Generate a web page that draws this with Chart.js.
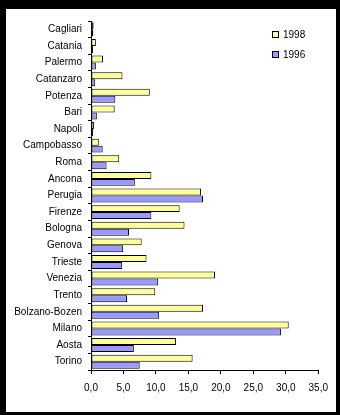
<!DOCTYPE html>
<html>
<head>
<meta charset="utf-8">
<script src="https://cdn.jsdelivr.net/npm/chart.js@4/dist/chart.umd.min.js"></script>
<style>
  html, body { margin: 0; padding: 0; background: #000; width: 340px; height: 415px; overflow: hidden; }
  #frame { position: absolute; left: 6px; top: 9px; width: 330px; height: 403px; background: #fff; }
  canvas { display: block; }
</style>
</head>
<body>
<div id="frame"><canvas id="c" width="330" height="403"></canvas></div>
<script>
// Cities, top to bottom
const cities = ['Cagliari', 'Catania', 'Palermo', 'Catanzaro', 'Potenza', 'Bari', 'Napoli',
  'Campobasso', 'Roma', 'Ancona', 'Perugia', 'Firenze', 'Bologna', 'Genova', 'Trieste',
  'Venezia', 'Trento', 'Bolzano-Bozen', 'Milano', 'Aosta', 'Torino'];

const values1998 = [0.4, 0.75, 1.85, 4.85, 9.05, 3.65, 0.45, 1.2, 4.35, 9.3, 16.95, 13.65,
  14.4, 7.8, 8.55, 19.1, 9.9, 17.25, 30.45, 13.1, 15.65];
const values1996 = [0.35, 0.3, 0.75, 0.65, 3.75, 0.9, 0.3, 1.8, 2.4, 6.75, 17.25, 9.3,
  5.85, 4.95, 4.8, 10.35, 5.55, 10.5, 29.25, 6.6, 7.5];

const seriesNames = ['1998', '1996'];
const xMin = 0, xMax = 35, xStep = 5;

const FONT = { family: '"Liberation Sans", Arial, sans-serif', size: 10 };

// Legend drawn in the upper right of the plot
const boxLegend = {
  id: 'boxLegend',
  afterDraw(chart) {
    const ctx = chart.ctx;
    ctx.save();
    ctx.font = FONT.size + 'px ' + FONT.family;
    ctx.textBaseline = 'middle';
    chart.data.datasets.forEach((ds, i) => {
      const x = 266, y = 22 + i * 20;
      ctx.fillStyle = ds.backgroundColor;
      ctx.fillRect(x, y, 7, 7);
      ctx.strokeStyle = '#000';
      ctx.lineWidth = 1;
      ctx.strokeRect(x + 0.5, y + 0.5, 6, 6);
      ctx.fillStyle = '#000';
      ctx.fillText(ds.label, x + 11, y + 4);
    });
    ctx.restore();
  }
};

new Chart(document.getElementById('c'), {
  type: 'bar',
  data: {
    labels: cities,
    datasets: [
      { label: seriesNames[0], data: values1998, backgroundColor: '#FFFF99',
        borderColor: '#000', borderWidth: 1, borderSkipped: false },
      { label: seriesNames[1], data: values1996, backgroundColor: '#9999FF',
        borderColor: '#000', borderWidth: 1, borderSkipped: false }
    ]
  },
  options: {
    indexAxis: 'y',
    responsive: false,
    animation: false,
    devicePixelRatio: 1,
    categoryPercentage: 0.84,
    barPercentage: 1.0,
    layout: { padding: { left: 0, top: 9, right: 11, bottom: 0 } },
    plugins: { legend: { display: false }, tooltip: { enabled: false } },
    scales: {
      x: {
        min: xMin, max: xMax,
        afterFit(s) { s.height = 42; },
        grid: { display: true, drawOnChartArea: false, drawTicks: true, tickLength: 4, color: '#000' },
        border: { display: true, color: '#000', width: 1 },
        ticks: {
          stepSize: xStep, color: '#000', font: FONT, padding: 8, maxRotation: 0,
          callback: v => v.toFixed(1).replace('.', ',')
        }
      },
      y: {
        afterFit(s) { s.width = 85; },
        grid: { display: true, drawOnChartArea: false, drawTicks: true, tickLength: 3, color: '#000', offset: true },
        border: { display: true, color: '#000', width: 1 },
        ticks: { color: '#000', font: FONT, padding: 6, autoSkip: false }
      }
    }
  },
  plugins: [boxLegend]
});
</script>
</body>
</html>
